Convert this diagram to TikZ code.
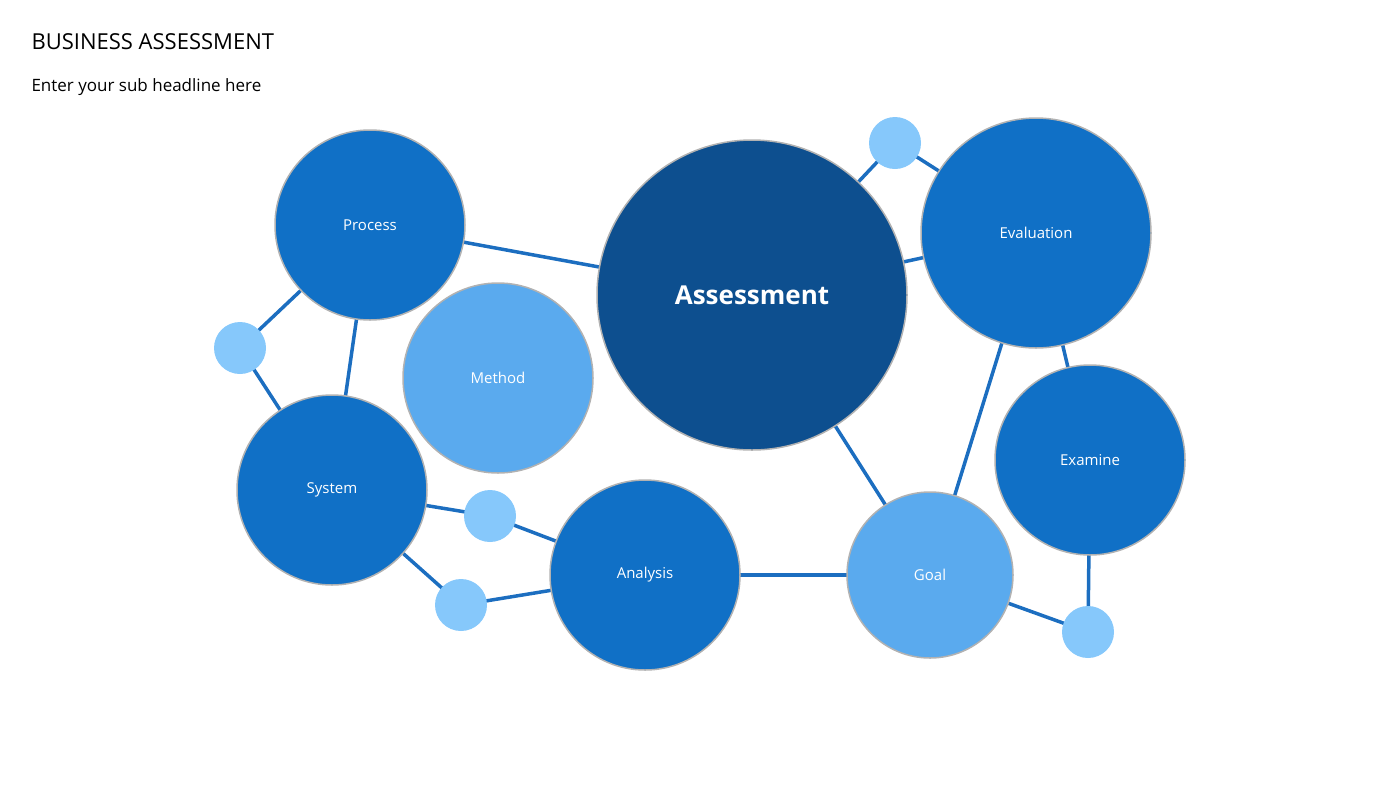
\documentclass[tikz,border=0pt]{standalone}
\usepackage{fontspec}
\setmainfont{Open Sans}
\usetikzlibrary{backgrounds}
\definecolor{mid}{HTML}{1070C6}
\definecolor{dark}{HTML}{0D4F8F}
\definecolor{light}{HTML}{5AAAEE}
\definecolor{tiny}{HTML}{86C8FB}
\definecolor{edge}{HTML}{1C6EC0}
\tikzset{
  bub/.style={circle,draw=white!70!black,line width=1.5pt,text=white,font=\fontsize{15}{18}\selectfont,inner sep=0pt},
  midb/.style={bub,fill=mid},
  lightb/.style={bub,fill=light},
  dot/.style={circle,fill=tiny,inner sep=0pt,minimum size=52pt},
  con/.style={draw=edge,line width=3.5pt}
}
\begin{document}
\begin{tikzpicture}[x=1pt,y=-1pt]
\useasboundingbox (0,0) rectangle (1400,788);
\node[anchor=west,font=\fontsize{22}{26}\selectfont] (title) at (28,42) {BUSINESS ASSESSMENT};
\node[anchor=west,font=\fontsize{17}{20}\selectfont] (sub) at (28,87) {Enter your sub headline here};
\node[midb,minimum size=190pt] (process) at (370,225) {Process};
\node[lightb,minimum size=190pt] (method) at (498,378) {Method};
\node[bub,fill=dark,minimum size=310pt,font=\bfseries\fontsize{26}{30}\selectfont] (assess) at (752,295) {Assessment};
\node[midb,minimum size=230pt] (eval) at (1036,233) {Evaluation};
\node[midb,minimum size=190pt] (exam) at (1090,460) {Examine};
\node[midb,minimum size=190pt] (system) at (332,490) {System};
\node[midb,minimum size=190pt] (analysis) at (645,575) {Analysis};
\node[lightb,minimum size=166pt] (goal) at (930,575) {Goal};
\node[dot] (s1) at (240,348) {};
\node[dot] (s2) at (490,516) {};
\node[dot] (s3) at (461,605) {};
\node[dot] (s4) at (895,143) {};
\node[dot] (s5) at (1088,632) {};
\begin{scope}[on background layer]
\draw[con] (process.center) -- (assess.center);
\draw[con] (process.center) -- (s1.center) -- (system.center);
\draw[con] (process.center) -- (system.center);
\draw[con] (system.center) -- (s2.center) -- (analysis.center);
\draw[con] (system.center) -- (s3.center) -- (analysis.center);
\draw[con] (analysis.center) -- (goal.center);
\draw[con] (assess.center) -- (goal.center);
\draw[con] (assess.center) -- (eval.center);
\draw[con] (assess.center) -- (s4.center) -- (eval.center);
\draw[con] (eval.center) -- (goal.center);
\draw[con] (eval.center) -- (exam.center);
\draw[con] (exam.center) -- (s5.center) -- (goal.center);
\end{scope}
\end{tikzpicture}
\end{document}
